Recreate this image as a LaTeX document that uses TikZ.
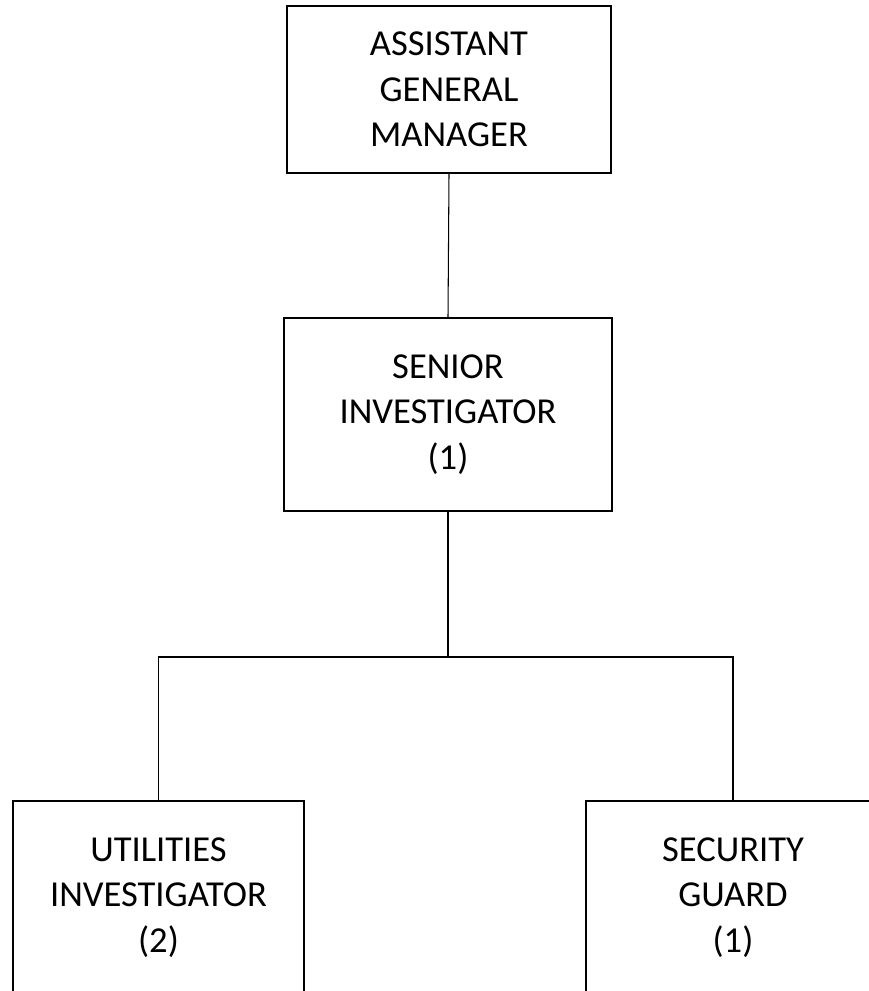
\documentclass[tikz,border=0pt]{standalone}
\usepackage{fontspec}
\setmainfont{Carlito}
\usetikzlibrary{positioning}

\begin{document}
\begin{tikzpicture}[
  x=0.025cm, y=-0.025cm,
  post/.style={rectangle, draw=black, line width=1.3pt, fill=white,
               align=center, inner sep=0pt,
               font=\fontsize{26}{32.5}\selectfont},
  link/.style={line width=0.75pt, black},
]
  \useasboundingbox (0,0) rectangle (868,991);

  \node[post, minimum width=8.1cm, minimum height=4.175cm] (agm) at (449, 89.5)
    {ASSISTANT\\GENERAL\\MANAGER};
  \node[post, minimum width=8.2cm, minimum height=4.825cm] (senior) at (448, 414.5)
    {SENIOR\\INVESTIGATOR\\(1)};
  \node[post, minimum width=7.275cm, minimum height=4.825cm] (utility) at (158.5, 897.5)
    {UTILITIES\\INVESTIGATOR\\(2)};
  \node[post, minimum width=7.35cm, minimum height=4.825cm] (guard) at (733, 897.5)
    {SECURITY\\GUARD\\(1)};

  \coordinate (split) at (448, 657);

  \draw[link] (agm.south) -- (senior.north);
  \draw[link] (senior.south) -- (split);
  \draw[link] (utility.north) |- (split) -| (guard.north);
\end{tikzpicture}
\end{document}
